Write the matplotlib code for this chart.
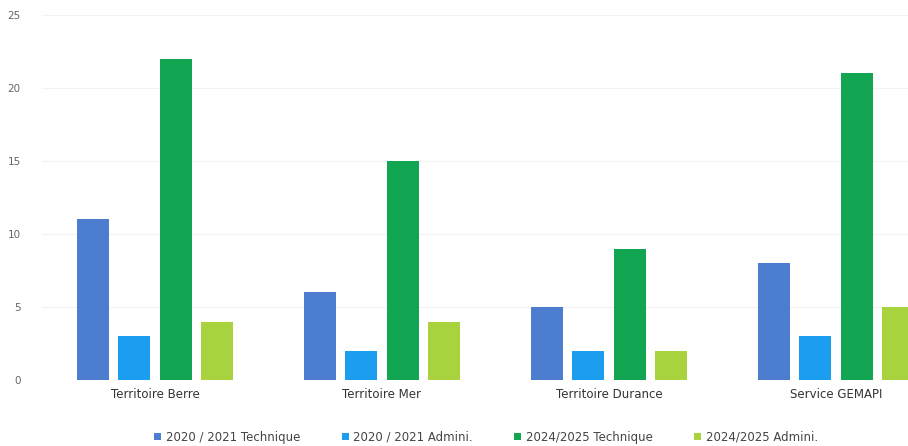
import numpy as np
import matplotlib.pyplot as plt

categories = ['Territoire Berre', 'Territoire Mer', 'Territoire Durance', 'Service GEMAPI']
series_names = ['2020 / 2021 Technique', '2020 / 2021 Admini.',
                '2024/2025 Technique', '2024/2025 Admini.']
tech_2020 = [11, 6, 5, 8]
admin_2020 = [3, 2, 2, 3]
tech_2024 = [22, 15, 9, 21]
admin_2024 = [4, 4, 2, 5]
colors = ['#4d7dcf', '#1c9ef0', '#12a653', '#a9d23f']

fig = plt.figure(figsize=(9.08, 4.46), dpi=100)
# axes is wider than the figure: the right edge of the original chart was cropped
ax = fig.add_axes([41.5 / 908, 1 - 380 / 446, 908 / 908, 365 / 446])

x = np.arange(len(categories))
width = 0.141
step = 0.181
offsets = (np.arange(4) - 1.5) * step
for vals, off, col, name in zip([tech_2020, admin_2020, tech_2024, admin_2024],
                                offsets, colors, series_names):
    ax.bar(x + off, vals, width, color=col, label=name, zorder=2)

ax.set_xlim(-0.5, 3.5)
ax.set_ylim(0, 25)
ax.set_yticks(range(0, 26, 5))
ax.yaxis.grid(True, color='#f2f2f2', linewidth=0.8, zorder=0)
for s in ax.spines.values():
    s.set_visible(False)
ax.tick_params(axis='y', length=0, labelsize=7.5, labelcolor='#666666', pad=15)
ax.tick_params(axis='x', length=0, labelsize=8.5, labelcolor='#333333', pad=6)
ax.set_xticks(x)
ax.set_xticklabels(categories)

fig.legend(loc='center left', bbox_to_anchor=(154 / 908, 1 - 437 / 446), ncol=4,
           frameon=False, fontsize=8.5, handlelength=0.6, handleheight=0.6,
           handletextpad=0.4, columnspacing=3.5, labelcolor='#444444',
           borderaxespad=0, borderpad=0)

fig.savefig('out.png', dpi=100)
